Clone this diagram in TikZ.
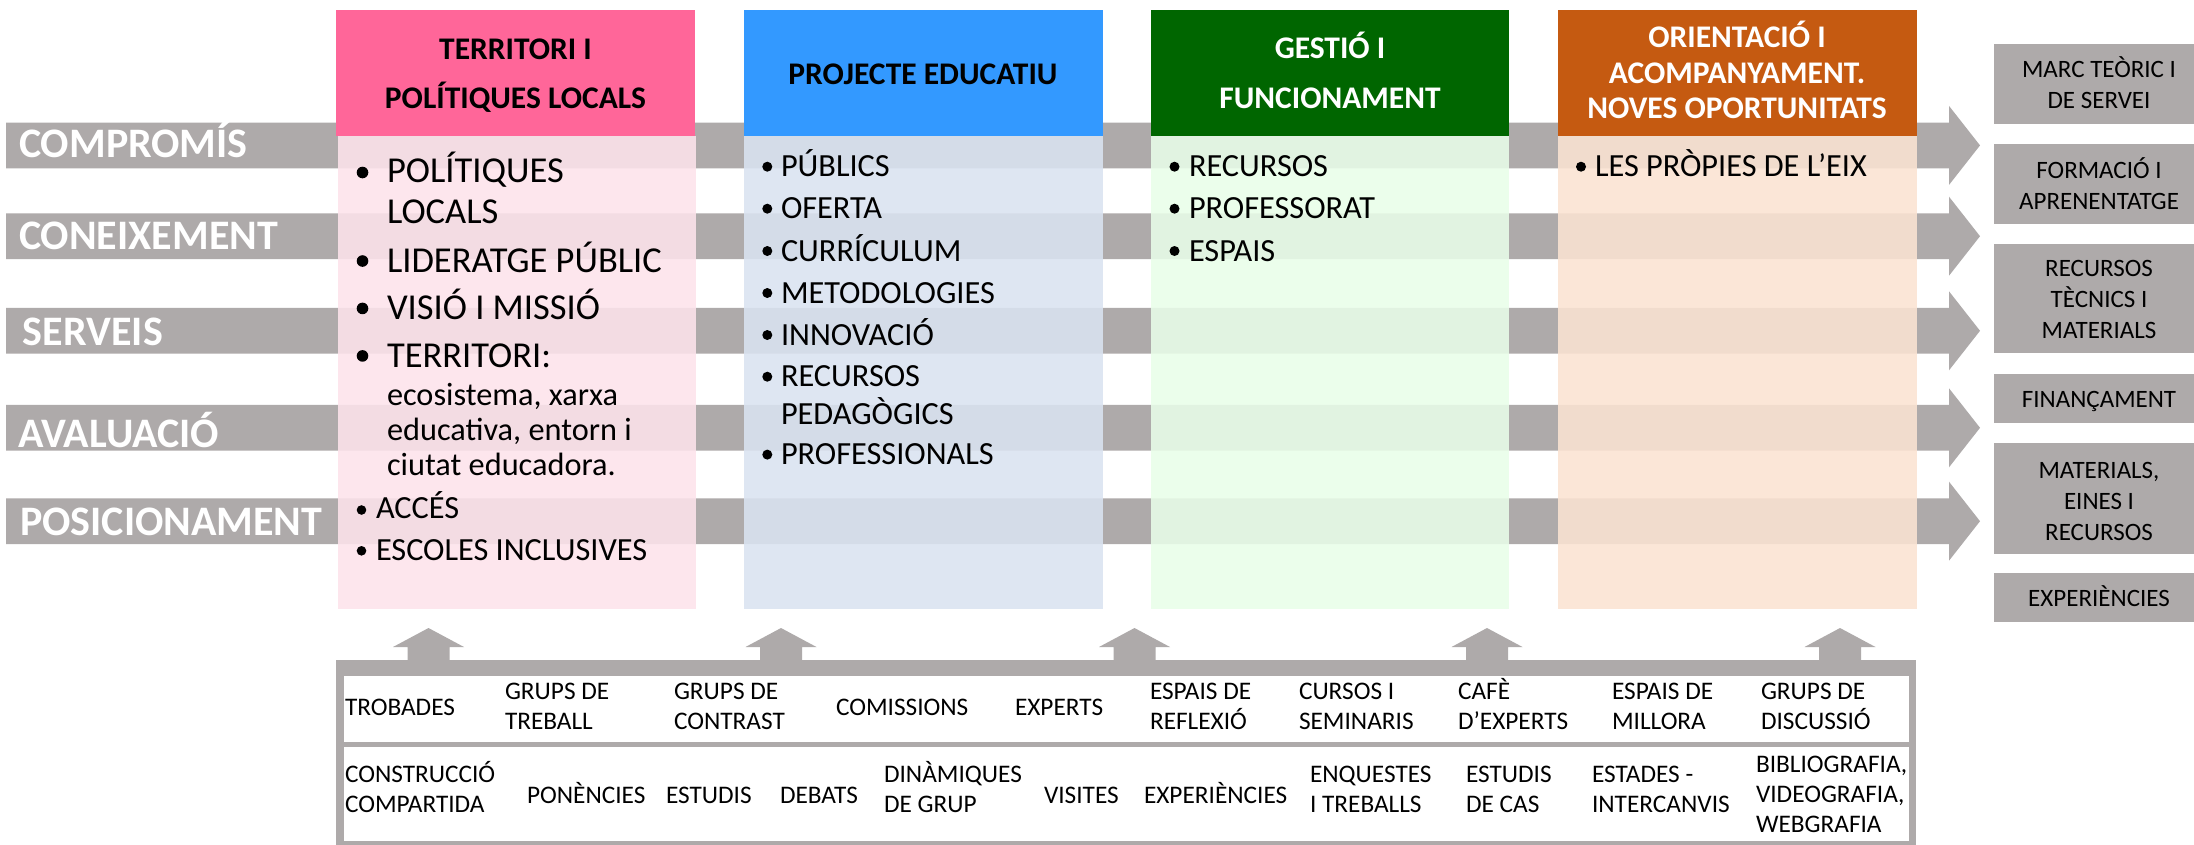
\documentclass[tikz,border=0pt]{standalone}
\usepackage{fontspec}
\setmainfont{Carlito}
\definecolor{barG}{RGB}{174,170,170}
\definecolor{pinkH}{RGB}{255,102,153}
\definecolor{blueH}{RGB}{51,153,255}
\definecolor{greenH}{RGB}{0,102,0}
\definecolor{orangeH}{RGB}{197,90,17}
\definecolor{pinkB}{RGB}{253,227,235}
\definecolor{blueB}{RGB}{218,227,241}
\definecolor{greenB}{RGB}{233,254,233}
\definecolor{orangeB}{RGB}{251,227,210}
\newcommand\mlL[1]{\begin{tabular}[t]{@{}l@{}}#1\end{tabular}}
\newcommand\mlC[1]{\begin{tabular}[t]{@{}c@{}}#1\end{tabular}}
\begin{document}
\begin{tikzpicture}[x=1pt,y=-1pt,
  every node/.style={inner sep=0pt,outer sep=0pt},
  lbl/.style={anchor=base west,text=white,font=\fontsize{42}{42}\selectfont\bfseries},
  hdr/.style={anchor=base,font=\fontsize{31.5}{49.5}\selectfont\bfseries},
  item/.style={anchor=base west,font=\fontsize{32.3}{36.3}\selectfont},
  bigitem/.style={anchor=base west,font=\fontsize{36.5}{40.7}\selectfont},
  side/.style={anchor=base,font=\fontsize{25}{31}\selectfont},
  act/.style={anchor=base west,font=\fontsize{25.3}{30}\selectfont},
  bul/.style={fill=black},
  body/.style={fill opacity=0.88}]
\useasboundingbox (0,0) rectangle (2194,844);
\clip (0,0) rectangle (2194,844);
\fill[white] (0,0) rectangle (2194,844);

% horizontal axis bars with arrow heads
\foreach \c in {145.4,236.2,330.8,427.8,521.2}{
  \fill[barG] (6,\c-22.9) -- (1949,\c-22.9) -- (1949,\c-39.5) -- (1980,\c)
    -- (1949,\c+39.5) -- (1949,\c+22.9) -- (6,\c+22.9) -- cycle;
}

% column bodies (translucent)
\fill[pinkB,body] (338,136) rectangle (696,609);
\fill[blueB,body] (744,136) rectangle (1103,609);
\fill[greenB,body] (1151,136) rectangle (1509,609);
\fill[orangeB,body] (1558,136) rectangle (1917,609);

% column headers
\fill[pinkH] (336,10) rectangle (695,136);
\fill[blueH] (744,10) rectangle (1103,136);
\fill[greenH] (1151,10) rectangle (1509,136);
\fill[orangeH] (1558,10) rectangle (1917,136);

% right boxes
\fill[barG] (1994,44) rectangle (2210,124);
\fill[barG] (1994,144) rectangle (2210,224);
\fill[barG] (1994,243.5) rectangle (2210,353);
\fill[barG] (1994,374) rectangle (2210,423);
\fill[barG] (1994,443) rectangle (2210,554);
\fill[barG] (1994,573) rectangle (2210,622);

% left labels
\node[lbl] (l1) at (19,157) {COMPROMÍS};
\node[lbl] (l2) at (19,249.5) {CONEIXEMENT};
\node[lbl] (l3) at (23,345) {SERVEIS};
\node[lbl] (l4) at (18,447) {AVALUACIÓ};
\node[lbl] (l5) at (20,535) {POSICIONAMENT};

% header texts
\node[hdr] (h1) at (515.5,59.3) {\mlC{TERRITORI I\\POLÍTIQUES LOCALS}};
\node[hdr] (h2) at (923,84.2) {PROJECTE EDUCATIU};
\node[hdr,text=white] (h3) at (1330,58.7) {\mlC{GESTIÓ I\\FUNCIONAMENT}};
\node[hdr,text=white,font=\fontsize{31.5}{35.6}\selectfont\bfseries] (h4) at (1737,47.4)
  {\mlC{ORIENTACIÓ I\\ACOMPANYAMENT.\\NOVES OPORTUNITATS}};

% pink column items
\fill[bul] (362.5,172.5) circle (5.8);
\fill[bul] (362.5,261) circle (5.8);
\fill[bul] (362.5,308.4) circle (5.8);
\fill[bul] (362.5,355.9) circle (5.8);
\fill[bul] (361.5,510) circle (4.8);
\fill[bul] (361.5,550.8) circle (4.8);
\node[bigitem] (p1) at (387,182.7) {\mlL{POLÍTIQUES\\LOCALS}};
\node[bigitem] (p2) at (387,272) {LIDERATGE PÚBLIC};
\node[bigitem] (p3) at (387,319.5) {VISIÓ I MISSIÓ};
\node[bigitem] (p4) at (387,367.7) {TERRITORI:};
\node[item,font=\fontsize{32.3}{35.4}\selectfont] (p5) at (387,405)
  {\mlL{ecosistema, xarxa\\educativa, entorn i\\ciutat educadora.}};
\node[item] (p6) at (376,518) {ACCÉS};
\node[item] (p7) at (376,560.7) {ESCOLES INCLUSIVES};

% blue column items
\foreach \b in {176.7,218.7,261,303,345,386.7,464.6}{
  \fill[bul] (767.3,\b-10) circle (5);
}
\node[item] (b1) at (781,176.7) {PÚBLICS};
\node[item] (b2) at (781,218.7) {OFERTA};
\node[item] (b3) at (781,261) {CURRÍCULUM};
\node[item] (b4) at (781,303) {METODOLOGIES};
\node[item] (b5) at (781,345) {INNOVACIÓ};
\node[item] (b6) at (781,386.7) {\mlL{RECURSOS\\PEDAGÒGICS}};
\node[item] (b7) at (781,464.6) {PROFESSIONALS};

% green column items
\foreach \b in {176.7,218.7,261}{
  \fill[bul] (1174.5,\b-10) circle (5);
}
\node[item] (g1) at (1189,176.7) {RECURSOS};
\node[item] (g2) at (1189,218.7) {PROFESSORAT};
\node[item] (g3) at (1189,261) {ESPAIS};

% orange column items
\fill[bul] (1581,166.7) circle (5);
\node[item] (o1) at (1595,176.7) {LES PRÒPIES DE L’EIX};

% right box texts
\node[side] (r1) at (2099,77) {\mlC{MARC TEÒRIC I\\DE SERVEI}};
\node[side] (r2) at (2099,178) {\mlC{FORMACIÓ I\\APRENENTATGE}};
\node[side] (r3) at (2099,276.8) {\mlC{RECURSOS\\TÈCNICS I\\MATERIALS}};
\node[side] (r4) at (2099,407.3) {FINANÇAMENT};
\node[side] (r5) at (2099,478.5) {\mlC{MATERIALS,\\EINES I\\RECURSOS}};
\node[side] (r6) at (2099,606) {EXPERIÈNCIES};

% bottom frame and upward arrows
\fill[barG] (336,660) rectangle (1916,850);
\fill[white] (344,676) rectangle (1909,742);
\fill[white] (344,747) rectangle (1909,841);
\foreach \a in {428.5,781,1134.5,1487,1840}{
  \fill[barG] (\a-21,662) -- (\a-21,647) -- (\a-35.5,647) -- (\a,628)
    -- (\a+35.5,647) -- (\a+21,647) -- (\a+21,662) -- cycle;
}

% bottom top row
\node[act] (t1) at (345,715) {TROBADES};
\node[act] (t2) at (505,699) {\mlL{GRUPS DE\\TREBALL}};
\node[act] (t3) at (674,699) {\mlL{GRUPS DE\\CONTRAST}};
\node[act] (t4) at (836,715) {COMISSIONS};
\node[act] (t5) at (1015,715) {EXPERTS};
\node[act] (t6) at (1150,699) {\mlL{ESPAIS DE\\REFLEXIÓ}};
\node[act] (t7) at (1299,699) {\mlL{CURSOS I\\SEMINARIS}};
\node[act] (t8) at (1458,699) {\mlL{CAFÈ\\D’EXPERTS}};
\node[act] (t9) at (1612,699) {\mlL{ESPAIS DE\\MILLORA}};
\node[act] (t10) at (1761,699) {\mlL{GRUPS DE\\DISCUSSIÓ}};

% bottom second row
\node[act] (u1) at (345,782) {\mlL{CONSTRUCCIÓ\\COMPARTIDA}};
\node[act] (u2) at (527,803) {PONÈNCIES};
\node[act] (u3) at (666,803) {ESTUDIS};
\node[act] (u4) at (780,803) {DEBATS};
\node[act] (u5) at (884,782) {\mlL{DINÀMIQUES\\DE GRUP}};
\node[act] (u6) at (1044,803) {VISITES};
\node[act] (u7) at (1144,803) {EXPERIÈNCIES};
\node[act] (u8) at (1310,782) {\mlL{ENQUESTES\\I TREBALLS}};
\node[act] (u9) at (1466,782) {\mlL{ESTUDIS\\DE CAS}};
\node[act] (u10) at (1592,782) {\mlL{ESTADES -\\INTERCANVIS}};
\node[act] (u11) at (1756,772) {\mlL{BIBLIOGRAFIA,\\VIDEOGRAFIA,\\WEBGRAFIA}};
\end{tikzpicture}
\end{document}
